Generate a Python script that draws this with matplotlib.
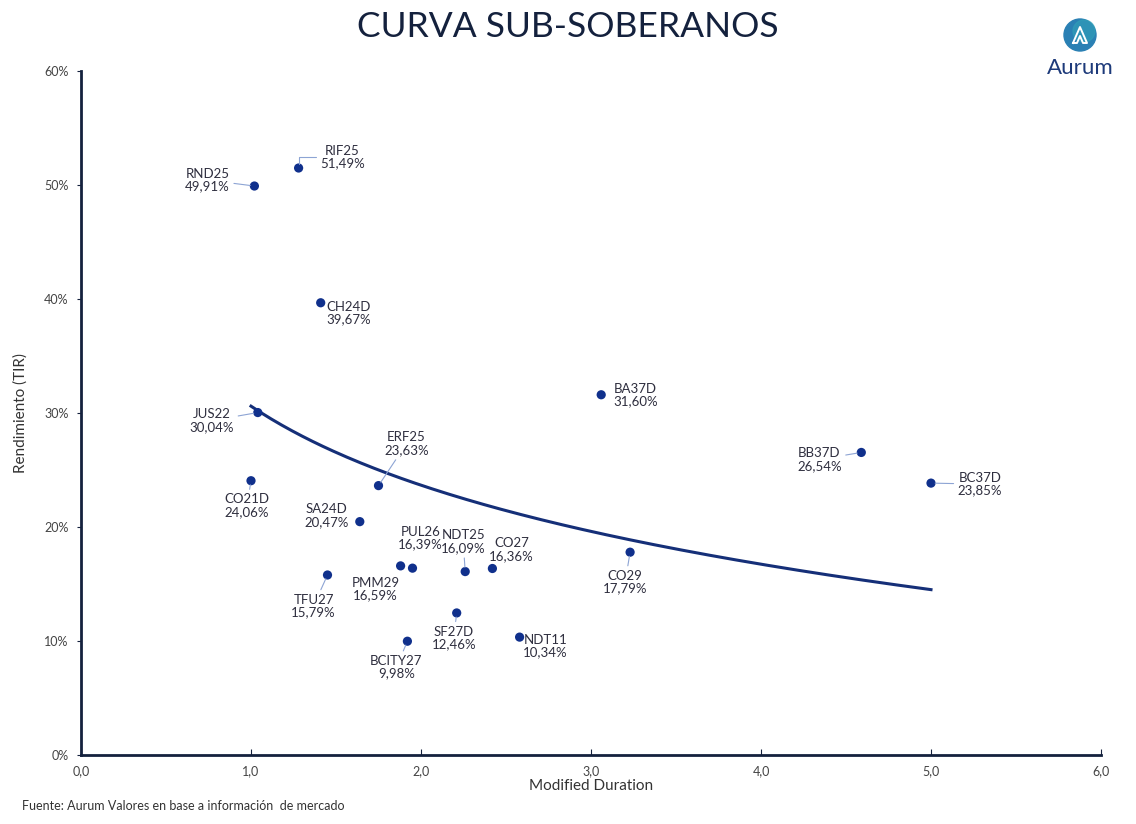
import numpy as np
import matplotlib
matplotlib.use("Agg")
import matplotlib.pyplot as plt
from matplotlib.patches import Circle

# ---- data ----
bonds = ["RND25", "RIF25", "CH24D", "JUS22", "CO21D", "ERF25", "SA24D", "PMM29",
         "PUL26", "NDT25", "CO27", "TFU27", "SF27D", "BCITY27", "NDT11", "CO29",
         "BA37D", "BB37D", "BC37D"]
duration = [1.02, 1.28, 1.41, 1.04, 1.00, 1.75, 1.64, 1.88,
            1.95, 2.26, 2.42, 1.45, 2.21, 1.92, 2.58, 3.23,
            3.06, 4.59, 5.00]
tir = [49.91, 51.49, 39.67, 30.04, 24.06, 23.63, 20.47, 16.59,
       16.39, 16.09, 16.36, 15.79, 12.46, 9.98, 10.34, 17.79,
       31.60, 26.54, 23.85]
# trendline (logarithmic)
trend_a = 30.6
trend_b = -10.0

x_ticks = [0, 1, 2, 3, 4, 5, 6]
y_ticks = [0, 10, 20, 30, 40, 50, 60]

# label offsets in pixels (dx, dy) and whether a leader line is drawn
offsets = {
    "RND25": (-47, 6, True), "RIF25": (44, 11, True), "CH24D": (28, -10, False),
    "JUS22": (-46, -8, True), "CO21D": (-4, -25, True), "ERF25": (28, 42, True),
    "SA24D": (-33, 6, False), "PMM29": (-25, -23, False), "PUL26": (8, 30, False),
    "NDT25": (-2, 30, True), "CO27": (19, 19, False), "TFU27": (-14, -31, True),
    "SF27D": (-3, -25, True), "BCITY27": (-11, -26, True), "NDT11": (26, -9, False),
    "CO29": (-5, -30, True), "BA37D": (34, 0, False), "BB37D": (-42, -7, True),
    "BC37D": (49, -1, True),
}

navy = "#14213d"
dot = "#10308c"
curve_c = "#152f78"
lead = "#8da4d4"
plt.rcParams['font.family'] = ['Lato', 'DejaVu Sans']

fig = plt.figure(figsize=(11.36, 8.24), dpi=100)
ax = fig.add_axes([81/1136, 69/824, 1020/1136, 684/824])

xs = np.linspace(min(duration), max(duration), 200)
ax.plot(xs, trend_a + trend_b*np.log(xs), color=curve_c, lw=2.2, zorder=2)
ax.scatter(duration, tir, s=44, color=dot, zorder=3, edgecolors="none")

for name, x, y in zip(bonds, duration, tir):
    dx, dy, leader = offsets[name]
    txt = f"{name}\n{y:.2f}%".replace(".", ",")
    ap = None
    if leader:
        cs = "angle,angleA=0,angleB=90,rad=0" if name == "RIF25" else "arc3"
        ap = dict(arrowstyle="-", color=lead, lw=0.8, shrinkA=1, shrinkB=3,
                  connectionstyle=cs)
    ax.annotate(txt, (x, y), xytext=(dx, dy), textcoords="offset pixels",
                ha="center", va="center", fontsize=9.5, color="#2e2e3e",
                linespacing=1.05, zorder=4, arrowprops=ap)

ax.set_xlim(0, 6)
ax.set_ylim(0, 60)
ax.set_xticks(x_ticks)
ax.set_xticklabels([f"{v:.1f}".replace(".", ",") for v in x_ticks])
ax.set_yticks(y_ticks)
ax.set_yticklabels([f"{v}%" for v in y_ticks])
for s in ["top", "right"]:
    ax.spines[s].set_visible(False)
for s in ["left", "bottom"]:
    ax.spines[s].set_color(navy)
    ax.spines[s].set_linewidth(2)
ax.tick_params(axis="x", direction="in", length=4, color=navy, labelsize=9, labelcolor="#444", pad=7)
ax.tick_params(axis="y", direction="out", length=3, color=navy, labelsize=9, labelcolor="#444", pad=6)
ax.set_xlabel("Modified Duration", fontsize=11, color="#333", labelpad=2)
ax.set_ylabel("Rendimiento (TIR)", fontsize=11, color="#333", labelpad=12)

fig.text(0.5, 1 - 27/824, "CURVA SUB-SOBERANOS", ha="center", va="center",
         fontsize=25.5, color=navy)
fig.text(22/1136, 1 - 806/824, "Fuente: Aurum Valores en base a información  de mercado",
         ha="left", va="center", fontsize=9, color="#333")

# logo
lax = fig.add_axes([1030/1136, 1 - 82/824, 100/1136, 72/824])
lax.set_xlim(0, 100); lax.set_ylim(0, 72); lax.axis("off")
lax.add_patch(Circle((50, 47), 16, color="#2a80b4"))
lax.add_patch(Circle((54, 51), 11, color="#31a0b8", alpha=0.6))
lax.plot([43, 50, 57, 53, 50, 47, 43], [39, 55, 39, 39, 46, 39, 39], color="white", lw=1.4)
lax.text(50, 14, "Aurum", ha="center", va="center", fontsize=16, color="#1d3a7a")

fig.savefig("out.png", dpi=100)
